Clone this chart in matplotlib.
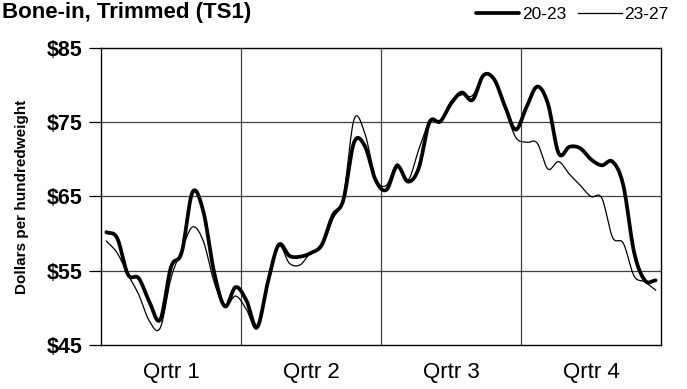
import numpy as np
import matplotlib
matplotlib.use("Agg")
import matplotlib.pyplot as plt

plt.rcParams['font.family'] = ['Liberation Sans', 'DejaVu Sans']

title = "Bone-in, Trimmed (TS1)"
series_names = ["20-23", "23-27"]
weeks = list(range(1, 53))
prices_2023 = [60.2, 59.4, 54.5, 54.0, 50.8, 48.4, 55.5, 57.5, 65.6, 63.0,
               54.8, 50.2, 52.8, 51.0, 47.4, 53.5, 58.5, 57.0, 56.9, 57.4,
               58.5, 62.4, 64.5, 72.3, 71.8, 67.2, 65.9, 69.1, 67.0, 68.8,
               75.0, 75.1, 77.5, 79.0, 78.0, 81.3, 80.8, 77.2, 74.0, 77.0,
               79.8, 77.5, 70.8, 71.7, 71.5, 70.0, 69.2, 69.7, 66.5, 57.5,
               53.7, 53.7]
prices_2327 = [59.0, 57.4, 54.5, 51.8, 48.2, 47.3, 54.0, 57.8, 60.9, 59.0,
               53.5, 50.2, 51.6, 49.8, 47.2, 53.0, 58.3, 56.0, 55.8, 57.5,
               58.2, 61.9, 65.0, 75.4, 73.5, 67.5, 66.5, 69.4, 67.2, 71.3,
               75.0, 75.1, 77.8, 78.7, 78.6, 81.3, 80.8, 77.0, 73.0, 72.3,
               72.2, 68.7, 69.7, 68.0, 66.5, 65.0, 64.8, 59.5, 58.7, 54.3,
               53.5, 52.4]
quarter_labels = ["Qrtr 1", "Qrtr 2", "Qrtr 3", "Qrtr 4"]
y_ticks = [45, 55, 65, 75, 85]


def smooth(x, y, n=12):
    x = np.asarray(x, float)
    y = np.asarray(y, float)
    px = np.concatenate([[2 * x[0] - x[1]], x, [2 * x[-1] - x[-2]]])
    py = np.concatenate([[2 * y[0] - y[1]], y, [2 * y[-1] - y[-2]]])
    xs, ys = [], []
    t = np.linspace(0, 1, n, endpoint=False)
    for i in range(1, len(px) - 2):
        for P, out in ((px, xs), (py, ys)):
            p0, p1, p2, p3 = P[i - 1], P[i], P[i + 1], P[i + 2]
            v = 0.5 * ((2 * p1) + (-p0 + p2) * t +
                       (2 * p0 - 5 * p1 + 4 * p2 - p3) * t ** 2 +
                       (-p0 + 3 * p1 - 3 * p2 + p3) * t ** 3)
            out.extend(v)
    xs.append(x[-1]); ys.append(y[-1])
    return np.array(xs), np.array(ys)


fig = plt.figure(figsize=(6.87, 3.89), dpi=100)
ax = fig.add_axes([101 / 687, 1 - 345 / 389, 560 / 687, 297 / 389])

sx, sy = smooth(weeks, prices_2023)
l1, = ax.plot(sx, sy, color='black', lw=2.7, solid_capstyle='round', zorder=3)
sx, sy = smooth(weeks, prices_2327)
l2, = ax.plot(sx, sy, color='black', lw=0.9, zorder=4)

ax.set_xlim(0.5, 52.5)
ax.set_ylim(45, 85)
ax.set_yticks(y_ticks)
ax.set_yticklabels([f"${v}" for v in y_ticks], fontsize=15.5, fontweight='bold')
ax.tick_params(axis='y', length=9, width=0.9, direction='out', pad=4)

bounds = [13.5, 26.5, 39.5]
ax.set_xticks(bounds)
ax.set_xticklabels([])
ax.tick_params(axis='x', length=0)
for b in bounds:
    ax.axvline(b, color='#404040', lw=0.9, zorder=1)
for v in [55, 65, 75]:
    ax.axhline(v, color='#404040', lw=0.9, zorder=1)

for i, q in enumerate(quarter_labels):
    ax.text(7 + 13 * i, 41.3, q, ha='center', va='center', fontsize=16)

for s in ax.spines.values():
    s.set_linewidth(1.0)
    s.set_color('black')

ax.set_ylabel("Dollars per hundredweight", fontsize=11, fontweight='bold')
ax.yaxis.set_label_coords(-72 / 560, 0.5)

fig.text(2 / 687, 1 - 18 / 389, title, ha='left', va='baseline',
         fontsize=16, fontweight='bold')

fig.legend([l1, l2], series_names, loc='upper right',
           bbox_to_anchor=(672 / 687, 1 - 3 / 389), ncol=2, frameon=False,
           fontsize=12.5, handlelength=2.5, handletextpad=0.15,
           columnspacing=0.7, borderaxespad=0.0, borderpad=0.2)

fig.savefig("out.png", dpi=100)
